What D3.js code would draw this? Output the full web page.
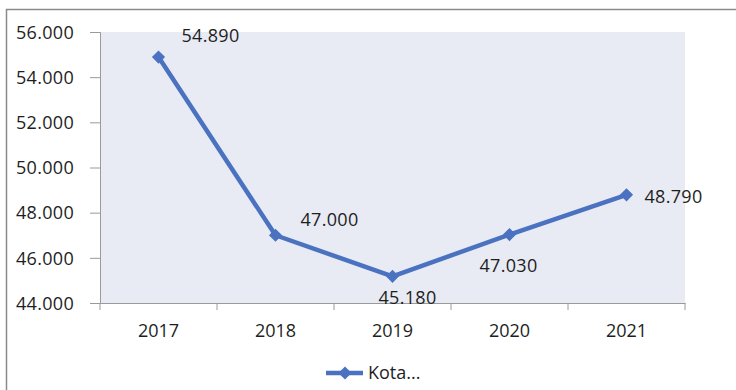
<!DOCTYPE html>
<html><head><meta charset="utf-8">
<script src="https://cdn.jsdelivr.net/npm/d3@7"></script>
<style>
html,body{margin:0;padding:0;background:#fff;}
svg text{font-family:"Open Sans",sans-serif;fill:#1e1e1e;}
</style></head>
<body><svg id="c" width="736" height="390"></svg>
<script>
const years = ["2017","2018","2019","2020","2021"];
const values = [54890, 47000, 45180, 47030, 48790];
const yTicks = [44000, 46000, 48000, 50000, 52000, 54000, 56000];
const seriesName = "Kota...";
// label placement (dx, dy relative to point) – styling only
const labelOffsets = [[52,-21],[54,-16],[15,21],[-1,31],[47,2]];

const svg = d3.select("#c");
const m = {l:100, t:32, r:685, b:303};
const color = "#4a72c0";
const FS = 18;

// outer border (left & top only)
svg.append("path").attr("d","M6.5,390 V9.5 H736").attr("fill","none").attr("stroke","#8a8a8a").attr("stroke-width",1.5);

const x = d3.scaleBand().domain(years).range([m.l, m.r]);
const y = d3.scaleLinear().domain([44000, 56000]).range([m.b, m.t]);

svg.append("rect").attr("x",m.l).attr("y",m.t).attr("width",m.r-m.l).attr("height",m.b-m.t).attr("fill","#e8ebf4");

const yAxis = svg.append("g").attr("transform",`translate(${m.l},0)`)
  .call(d3.axisLeft(y).tickValues(yTicks).tickSize(10).tickFormat(d => (d/1000).toFixed(3)));
yAxis.select(".domain").attr("stroke","#9a9a9a");
yAxis.selectAll(".tick line").attr("stroke","#9a9a9a");
yAxis.selectAll("text").attr("font-size",FS).attr("letter-spacing","0.3px").attr("dy","0.35em").attr("x",-26);

const xAxis = svg.append("g").attr("transform",`translate(0,${m.b})`)
  .call(d3.axisBottom(x).tickSize(0).tickPadding(21));
xAxis.select(".domain").attr("stroke","#9a9a9a");
xAxis.selectAll("text").attr("font-size",FS);
// boundary ticks
const bounds = years.map(d => x(d)).concat([m.r]);
svg.append("g").selectAll("line").data(bounds).join("line")
  .attr("x1",d=>d).attr("x2",d=>d).attr("y1",m.b).attr("y2",m.b+7).attr("stroke","#9a9a9a");

const line = d3.line().x((d,i)=>x(years[i])+x.bandwidth()/2).y(d=>y(d));
svg.append("path").datum(values).attr("d",line).attr("fill","none").attr("stroke",color).attr("stroke-width",4.5).attr("stroke-linejoin","round");

const diamond = d3.symbol().type(d3.symbolDiamond2).size(110);
svg.append("g").selectAll("path").data(values).join("path")
  .attr("d",diamond)
  .attr("transform",(d,i)=>`translate(${x(years[i])+x.bandwidth()/2},${y(d)})`)
  .attr("fill",color);

svg.append("g").selectAll("text").data(values).join("text")
  .attr("x",(d,i)=>x(years[i])+x.bandwidth()/2+labelOffsets[i][0])
  .attr("y",(d,i)=>y(d)+labelOffsets[i][1])
  .attr("dy","0.35em").attr("text-anchor","middle")
  .attr("font-size",FS).attr("letter-spacing","0.3px")
  .text(d => (d/1000).toFixed(3));

// legend
const lg = svg.append("g").attr("transform","translate(326,373)");
lg.append("line").attr("x1",0).attr("x2",37).attr("stroke",color).attr("stroke-width",4.5);
lg.append("path").attr("d",diamond).attr("transform","translate(19,0)").attr("fill",color);
lg.append("text").attr("x",42).attr("dy","0.35em").attr("font-size",FS).text(seriesName);
</script></body></html>
